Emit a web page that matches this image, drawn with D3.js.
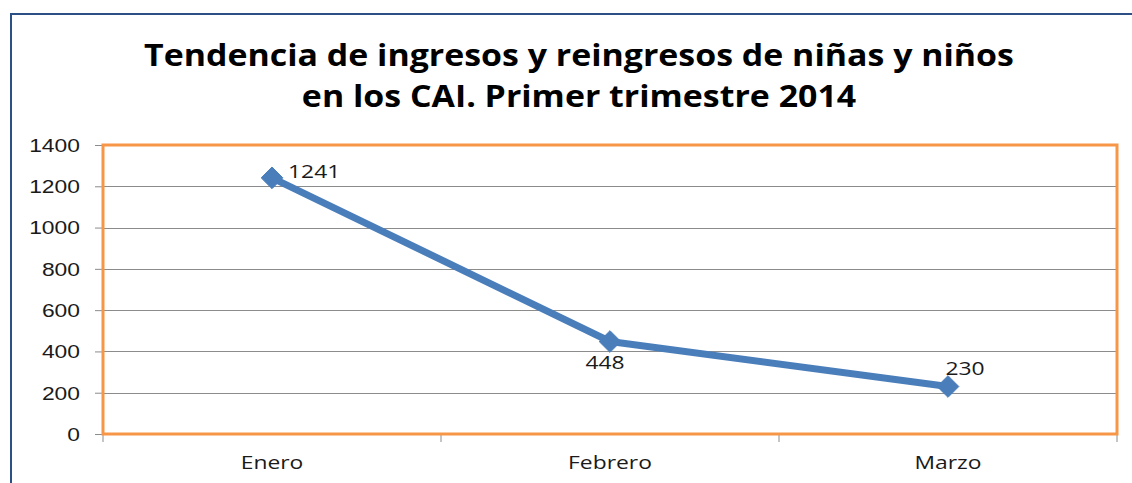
<!DOCTYPE html>
<html>
<head>
<meta charset="utf-8">
<script src="https://cdn.jsdelivr.net/npm/d3@7"></script>
<style>
  html, body { margin: 0; padding: 0; background: #fff; }
  svg { display: block; font-family: "Open Sans", sans-serif; }
  .grid line { stroke: #8c8c8c; stroke-width: 1; }
  .tick-label { fill: #1a1a1a; font-size: 18px; }
</style>
</head>
<body>
<svg id="chart" width="1132" height="483"></svg>
<script>
// chart data
const months = ['Enero', 'Febrero', 'Marzo'];
const ingresos = [1241, 448, 230];
const yTicks = [0, 200, 400, 600, 800, 1000, 1200, 1400];
const titleLines = [
  'Tendencia de ingresos y reingresos de niñas y niños',
  'en los CAI. Primer trimestre 2014'
];
// where each data label sits relative to its point
const labelPos = ['right', 'below', 'above'];

const W = 1132, H = 483;
const plot = { left: 103, right: 1117, top: 145, bottom: 434 };
const LABEL_SX = 1.27;   // the source picture is stretched sideways
const TITLE_SX = 1.13;

const svg = d3.select('#chart');

// places a text at (px, py) and widens it around that point
function stretched(sel, px, py, sx) {
  return sel.attr('x', 0).attr('y', 0)
    .attr('transform', `translate(${px},${py}) scale(${sx},1)`);
}

// outer chart border (only top and left visible in the crop)
svg.append('path')
  .attr('d', `M11,${H} L11,14 L${W},14`)
  .attr('fill', 'none')
  .attr('stroke', '#2c4f86')
  .attr('stroke-width', 2);

// title
svg.selectAll('.title')
  .data(titleLines)
  .join('text')
  .attr('class', 'title')
  .attr('text-anchor', 'middle')
  .attr('font-weight', 'bold')
  .attr('font-size', 30)
  .attr('fill', '#000')
  .each(function(d, i) { stretched(d3.select(this), 579, 66 + i * 41, TITLE_SX); })
  .text(d => d);

const x = d3.scaleBand()
  .domain(months)
  .range([plot.left, plot.right]);

const y = d3.scaleLinear()
  .domain([0, 1400])
  .range([plot.bottom, plot.top]);

// horizontal gridlines
svg.append('g')
  .attr('class', 'grid')
  .selectAll('line')
  .data(yTicks.filter(t => t > 0 && t < 1400))
  .join('line')
  .attr('x1', plot.left)
  .attr('x2', plot.right)
  .attr('y1', d => Math.round(y(d)) + 0.5)
  .attr('y2', d => Math.round(y(d)) + 0.5);

// y axis
const yAxis = svg.append('g')
  .attr('transform', `translate(${plot.left},0)`)
  .call(d3.axisLeft(y).tickValues(yTicks).tickFormat(d3.format('d')).tickSize(8));
yAxis.select('.domain').attr('stroke', '#8c8c8c');
yAxis.selectAll('.tick line').attr('stroke', '#8c8c8c');
yAxis.selectAll('.tick text')
  .attr('class', 'tick-label')
  .attr('font-family', null)
  .attr('font-size', null)
  .attr('dy', '0.35em')
  .each(function() { stretched(d3.select(this), -23, 0, LABEL_SX); });

// x axis: ticks at category boundaries
const xAxis = svg.append('g')
  .attr('transform', `translate(0,${plot.bottom})`);
xAxis.append('line')
  .attr('x1', plot.left).attr('x2', plot.right)
  .attr('stroke', '#8c8c8c');
xAxis.selectAll('.bound')
  .data(d3.range(months.length + 1))
  .join('line')
  .attr('x1', i => plot.left + i * x.bandwidth())
  .attr('x2', i => plot.left + i * x.bandwidth())
  .attr('y1', 0).attr('y2', 8)
  .attr('stroke', '#8c8c8c');
xAxis.selectAll('.cat')
  .data(months)
  .join('text')
  .attr('class', 'tick-label')
  .attr('text-anchor', 'middle')
  .each(function(d) { stretched(d3.select(this), x(d) + x.bandwidth() / 2, 35, LABEL_SX); })
  .text(d => d);

// orange plot-area border
svg.append('rect')
  .attr('x', plot.left)
  .attr('y', plot.top)
  .attr('width', plot.right - plot.left)
  .attr('height', plot.bottom - plot.top)
  .attr('fill', 'none')
  .attr('stroke', '#f79646')
  .attr('stroke-width', 3);

const pts = months.map((m, i) => [x(m) + x.bandwidth() / 2, y(ingresos[i])]);

// series line
svg.append('path')
  .datum(pts)
  .attr('d', d3.line())
  .attr('fill', 'none')
  .attr('stroke', '#4a7ebb')
  .attr('stroke-width', 7)
  .attr('stroke-linejoin', 'round');

// diamond markers
svg.selectAll('.marker')
  .data(pts)
  .join('path')
  .attr('class', 'marker')
  .attr('transform', d => `translate(${d[0]},${d[1]})`)
  .attr('d', d3.symbol(d3.symbolDiamond2, 300)())
  .attr('fill', '#4a7ebb')
  .attr('stroke', '#4a7ebb')
  .attr('stroke-width', 1);

// data labels
const offsets = {
  right: { dx: 16, dy: 0, anchor: 'start' },
  below: { dx: -5, dy: 27, anchor: 'middle' },
  above: { dx: 17, dy: -12, anchor: 'middle' }
};
svg.selectAll('.dlabel')
  .data(pts)
  .join('text')
  .attr('class', 'tick-label')
  .attr('text-anchor', (d, i) => offsets[labelPos[i]].anchor)
  .each(function(d, i) {
    const o = offsets[labelPos[i]];
    stretched(d3.select(this), d[0] + o.dx, d[1] + o.dy, LABEL_SX);
  })
  .text((d, i) => ingresos[i]);
</script>
</body>
</html>
